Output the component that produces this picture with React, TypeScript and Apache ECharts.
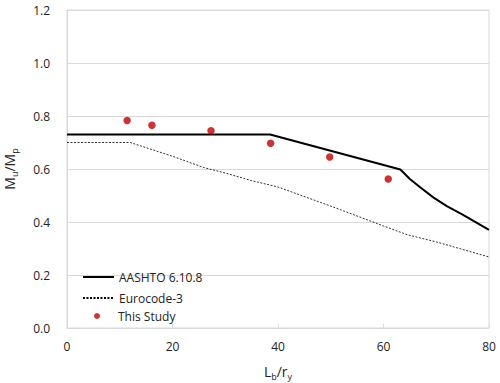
import React, { useEffect, useRef } from "react";
import * as echarts from "echarts";

const aashtoX = [0, 38.5, 63.2, 65, 67, 69.5, 72, 75, 80];
const aashtoY = [0.73, 0.73, 0.598, 0.562, 0.53, 0.492, 0.46, 0.428, 0.37];

const eurocodeX = [0, 12, 20, 26, 30, 35, 40, 50, 60, 64.5, 70, 80];
const eurocodeY = [0.7, 0.7, 0.648, 0.605, 0.585, 0.556, 0.532, 0.46, 0.385, 0.352, 0.325, 0.268];

const studyX = [11.4, 16.1, 27.3, 38.6, 49.8, 60.9];
const studyY = [0.783, 0.765, 0.744, 0.697, 0.645, 0.562];

const FONT = "'Open Sans', 'Liberation Sans', sans-serif";

export default function App() {
  const ref = useRef<HTMLDivElement>(null);
  useEffect(() => {
    if (!ref.current) return;
    const chart = echarts.init(ref.current, null, { renderer: "svg" });
    chart.setOption({
      animation: false,
      backgroundColor: "#ffffff",
      textStyle: { fontFamily: FONT },
      grid: {
        left: 67,
        right: 11,
        top: 10,
        bottom: 55,
        outerBoundsMode: "none",
        containLabel: false,
        show: true,
        borderColor: "#d9d9d9",
        borderWidth: 1,
      },
      legend: [
        {
          orient: "vertical",
          left: 77,
          top: 266,
          itemWidth: 31,
          itemHeight: 12,
          itemGap: 9,
          textStyle: { fontFamily: FONT, fontSize: 12, color: "#222" },
          data: [
            { name: "AASHTO 6.10.8", itemStyle: { opacity: 0 } },
            { name: "Eurocode-3", itemStyle: { opacity: 0 } },
          ],
        },
        {
          orient: "vertical",
          left: 89,
          top: 305,
          itemWidth: 6,
          itemHeight: 6,
          textStyle: { fontFamily: FONT, fontSize: 12, color: "#222", padding: [0, 0, 0, 13] },
          data: [{ name: "This Study", icon: "circle" }],
        },
      ],
      xAxis: {
        type: "value",
        min: 0,
        max: 80,
        interval: 20,
        name: "{a|L}{s|b}{a|/r}{s|y}",
        nameLocation: "middle",
        nameGap: 34,
        nameTextStyle: {
          rich: {
            a: { fontFamily: FONT, fontSize: 14, color: "#222" },
            s: { fontFamily: FONT, fontSize: 9, color: "#222", verticalAlign: "bottom", padding: [10, 0, 0, 0] },
          },
        },
        axisLine: { show: true, lineStyle: { color: "#d9d9d9", width: 1 } },
        axisTick: { show: true, inside: true, length: 4, lineStyle: { color: "#d9d9d9" } },
        axisLabel: { fontFamily: FONT, fontSize: 12, color: "#222", margin: 12 },
        splitLine: { show: false },
      },
      yAxis: {
        type: "value",
        min: 0,
        max: 1.2,
        interval: 0.2,
        name: "{a|M}{s|u}{a|/M}{s|p}",
        nameLocation: "middle",
        nameGap: 48,
        nameRotate: 90,
        nameTextStyle: {
          rich: {
            a: { fontFamily: FONT, fontSize: 14, color: "#222" },
            s: { fontFamily: FONT, fontSize: 9, color: "#222", verticalAlign: "bottom", padding: [10, 0, 0, 0] },
          },
        },
        axisLine: { show: true, lineStyle: { color: "#d9d9d9", width: 1 } },
        axisTick: { show: false },
        axisLabel: {
          fontFamily: FONT,
          fontSize: 12,
          color: "#222",
          margin: 17,
          formatter: (v: number) => v.toFixed(1),
        },
        splitLine: { show: true, lineStyle: { color: "#d9d9d9", width: 1 } },
      },
      series: [
        {
          name: "AASHTO 6.10.8",
          type: "line",
          data: aashtoX.map((x, i) => [x, aashtoY[i]]),
          symbol: "none",
          smooth: false,
          lineStyle: { color: "#000", width: 2 },
          itemStyle: { color: "#000" },
          z: 3,
        },
        {
          name: "Eurocode-3",
          type: "line",
          data: eurocodeX.map((x, i) => [x, eurocodeY[i]]),
          symbol: "none",
          lineStyle: { color: "#000", width: 0.8, type: [2, 1.5] },
          itemStyle: { color: "#000" },
          z: 2,
        },
        {
          name: "This Study",
          type: "scatter",
          data: studyX.map((x, i) => [x, studyY[i]]),
          symbol: "circle",
          symbolSize: 7.5,
          itemStyle: { color: "#c00000" },
          z: 4,
        },
      ],
    });
    return () => chart.dispose();
  }, []);
  return (
    <div
      ref={ref}
      style={{ position: "absolute", left: 0, top: 0, width: 500, height: 383 }}
    />
  );
}
